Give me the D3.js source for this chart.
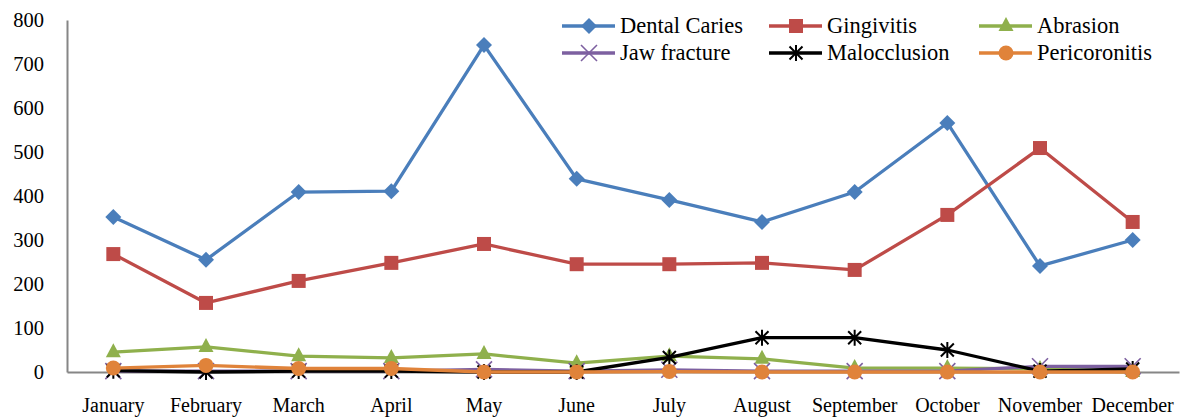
<!DOCTYPE html>
<html><head><meta charset="utf-8">
<script src="https://cdn.jsdelivr.net/npm/d3@7"></script>
<style>
html,body{margin:0;padding:0;background:#fff;}
</style></head>
<body>
<svg id="chart" width="1182" height="418"></svg>
<script>
const months = ["January","February","March","April","May","June","July","August","September","October","November","December"];
const yTicks = [0,100,200,300,400,500,600,700,800];
const seriesNames = ["Dental Caries","Gingivitis","Abrasion","Jaw fracture","Malocclusion","Pericoronitis"];
const dentalCaries = [352,255,409,411,743,439,391,341,409,566,241,300];
const gingivitis  = [268,157,207,248,291,245,245,248,232,357,509,341];
const abrasion    = [45,57,36,32,41,20,36,30,9,9,7,0];
const jawFracture = [2,2,2,2,6,2,5,2,2,2,13,13];
const malocclusion= [3,0,2,2,0,0,33,78,78,50,2,7];
const pericoronitis=[9,15,8,8,0,0,1,0,0,0,0,0];

const FONT = '"Liberation Serif", serif';
const colors = ["#4A7EBB","#BE4B48","#8FB04C","#7D60A0","#000000","#E0833A"];
const markers = ["diamond","square","triangle","x","star","circle"];
const values = [dentalCaries,gingivitis,abrasion,jawFracture,malocclusion,pericoronitis];

const svg = d3.select("#chart");
const x = d3.scaleBand().domain(months).range([67,1179]);
const y = d3.scaleLinear().domain([0,800]).range([372,20]);

const yAxis = svg.append("g").attr("transform","translate(67,0)")
  .call(d3.axisLeft(y).tickValues(yTicks).tickSize(0).tickPadding(23));
yAxis.attr("font-family",null);
yAxis.select(".domain").attr("stroke","#868686").attr("stroke-width",2);
yAxis.selectAll("text").attr("font-size",20.5).style("font-family",FONT).attr("fill","#000");

const xAxis = svg.append("g").attr("transform","translate(0,372)")
  .call(d3.axisBottom(x).tickSize(0).tickPadding(26));
xAxis.attr("font-family",null);
xAxis.select(".domain").attr("stroke","#868686").attr("stroke-width",2);
xAxis.selectAll("text").attr("font-size",20).style("font-family",FONT).attr("fill","#000");

function drawMarker(g, type, color, cx, cy){
  if(type==="diamond"){
    g.append("path").attr("d",`M${cx},${cy-8}L${cx+8},${cy}L${cx},${cy+8}L${cx-8},${cy}Z`).attr("fill",color);
  } else if(type==="square"){
    g.append("rect").attr("x",cx-7).attr("y",cy-7).attr("width",14).attr("height",14).attr("fill",color);
  } else if(type==="triangle"){
    g.append("path").attr("d",`M${cx},${cy-9}L${cx+7.5},${cy+5}L${cx-7.5},${cy+5}Z`).attr("fill",color);
  } else if(type==="x"){
    g.append("path").attr("d",`M${cx-8},${cy-8}L${cx+8},${cy+8}M${cx+8},${cy-8}L${cx-8},${cy+8}`).attr("stroke",color).attr("stroke-width",1.6);
  } else if(type==="star"){
    g.append("path").attr("d",`M${cx-6.5},${cy-6.5}L${cx+6.5},${cy+6.5}M${cx+6.5},${cy-6.5}L${cx-6.5},${cy+6.5}M${cx},${cy-8}L${cx},${cy+8}`).attr("stroke",color).attr("stroke-width",2);
  } else if(type==="circle"){
    g.append("circle").attr("cx",cx).attr("cy",cy).attr("r",7.5).attr("fill",color);
  }
}

const line = d3.line().x((d,i)=>x(months[i])+x.bandwidth()/2).y(d=>y(d));
values.forEach((vals,si)=>{
  const g = svg.append("g");
  g.append("path").datum(vals).attr("d",line).attr("fill","none")
    .attr("stroke",colors[si]).attr("stroke-width",3.3).attr("stroke-linejoin","round");
  vals.forEach((v,i)=>drawMarker(g,markers[si],colors[si],x(months[i])+x.bandwidth()/2,y(v)));
});

const legX = [562,769,979];
const legY = [26,53];
seriesNames.forEach((name,i)=>{
  const lx = legX[i%3], ly = legY[Math.floor(i/3)];
  const g = svg.append("g");
  g.append("line").attr("x1",lx).attr("x2",lx+53).attr("y1",ly).attr("y2",ly)
    .attr("stroke",colors[i]).attr("stroke-width",3.3);
  drawMarker(g,markers[i],colors[i],lx+27,ly);
  g.append("text").attr("x",lx+58).attr("y",ly).attr("dy","0.33em")
    .attr("font-size",22.5).style("font-family",FONT).attr("fill","#000").text(name);
});
</script>
</body></html>
